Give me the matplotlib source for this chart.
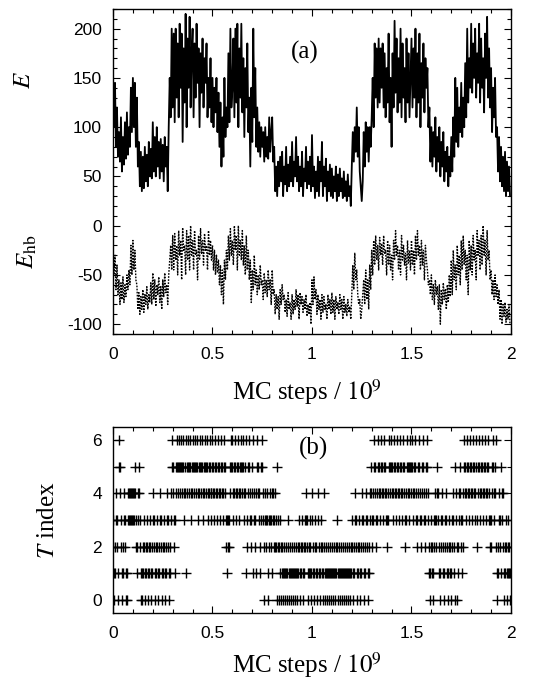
import matplotlib.pyplot as plt
import numpy as np
from matplotlib.ticker import MultipleLocator

plt.rcParams['font.family'] = ['Liberation Sans', 'DejaVu Sans']
plt.rcParams['mathtext.fontset'] = 'stix'
plt.rcParams['axes.unicode_minus'] = False

# energy E, one value every 0.005 x 10^9 MC steps (20 per row = 0.1)
E = [140, 100, 145, 80, 120, 70, 95, 65, 110, 55, 90, 62, 105, 68, 115, 72, 100, 80, 140, 95,
     150, 100, 145, 80, 130, 60, 85, 40, 75, 35, 70, 38, 80, 45, 72, 40, 85, 50, 78, 48,
     105, 55, 90, 50, 100, 60, 85, 48, 88, 55, 82, 45, 90, 60, 80, 35, 100, 150, 110, 200,
     120, 195, 105, 200, 130, 185, 110, 205, 140, 195, 85, 180, 125, 215, 100, 190, 140, 212, 120, 175,
     200, 110, 185, 130, 205, 145, 180, 100, 175, 135, 190, 120, 170, 145, 185, 110, 150, 120, 170, 105,
     150, 100, 140, 115, 150, 95, 135, 80, 125, 60, 110, 70, 150, 90, 120, 100, 175, 105, 200, 120,
     140, 190, 110, 200, 125, 205, 100, 180, 130, 205, 115, 170, 90, 160, 120, 185, 95, 130, 60, 140,
     85, 200, 110, 160, 80, 120, 75, 105, 70, 100, 80, 95, 65, 100, 70, 90, 68, 110, 75, 95,
     110, 65, 80, 35, 60, 30, 65, 40, 70, 45, 75, 30, 60, 42, 80, 35, 62, 40, 70, 45,
     85, 40, 65, 50, 90, 45, 70, 35, 60, 40, 75, 30, 58, 45, 80, 38, 65, 42, 70, 35,
     92, 40, 60, 28, 55, 35, 70, 30, 65, 45, 85, 30, 60, 40, 68, 25, 55, 35, 62, 30,
     58, 28, 50, 35, 60, 25, 52, 30, 58, 35, 48, 28, 55, 30, 45, 25, 52, 30, 40, 20,
     60, 95, 65, 100, 75, 120, 70, 100, 55, 40, 25, 45, 95, 60, 105, 75, 100, 65, 100, 80,
     110, 150, 100, 185, 130, 180, 120, 190, 125, 180, 140, 185, 120, 175, 110, 160, 125, 195, 105, 150,
     80, 175, 120, 208, 135, 190, 115, 170, 125, 200, 110, 185, 130, 160, 105, 190, 125, 175, 110, 150,
     190, 120, 180, 130, 200, 110, 175, 125, 195, 100, 165, 130, 185, 115, 170, 140, 160, 100, 120, 65,
     100, 60, 95, 70, 110, 55, 90, 65, 100, 50, 85, 60, 95, 45, 75, 55, 80, 40, 70, 50,
     90, 55, 110, 70, 150, 85, 140, 80, 120, 95, 145, 90, 130, 100, 165, 110, 200, 125, 170, 140,
     205, 135, 185, 150, 200, 130, 175, 145, 205, 125, 190, 140, 170, 115, 195, 150, 212, 130, 180, 120,
     160, 95, 140, 110, 150, 90, 100, 55, 90, 45, 80, 40, 70, 35, 75, 30, 65, 35, 60, 30]

# hydrogen bond energy E_hb, same sampling
E_hb = [-20, -50, -30, -65, -40, -70, -55, -80, -58, -75, -52, -78, -60, -72, -50, -65, -45, -60, -20, -50,
        -15, -45, -25, -55, -60, -85, -68, -90, -72, -85, -65, -88, -70, -80, -62, -85, -70, -78, -58, -80,
        -48, -75, -55, -82, -60, -70, -52, -78, -62, -85, -55, -72, -48, -68, -60, -80, -50, -35, -20, -45,
        -10, -45, -8, -35, -20, -50, -5, -30, -15, -55, -2, -25, -20, -50, -5, -35, -10, -45, 0, -30,
        -15, -45, -5, -30, -25, -55, -10, -35, -3, -28, -15, -40, -8, -25, -20, -45, -5, -30, -15, -35,
        -20, -45, -25, -50, -30, -48, -35, -60, -40, -70, -45, -80, -35, -55, -25, -45, -10, -35, -3, -30,
        -15, -40, 0, -25, -10, -45, 0, -30, -15, -35, -5, -40, -20, -50, -10, -45, -25, -55, -35, -78,
        -45, -65, -30, -60, -45, -70, -50, -65, -40, -60, -55, -75, -48, -68, -55, -72, -45, -65, -55, -80,
        -45, -70, -65, -90, -70, -85, -72, -95, -65, -80, -60, -75, -70, -88, -75, -92, -68, -85, -78, -95,
        -70, -90, -75, -85, -65, -82, -70, -95, -68, -80, -72, -88, -75, -85, -70, -92, -80, -90, -78, -100,
        -55, -80, -52, -75, -65, -90, -70, -85, -75, -95, -70, -88, -72, -85, -80, -95, -70, -85, -75, -90,
        -68, -88, -75, -95, -72, -85, -78, -90, -70, -85, -75, -95, -72, -88, -80, -92, -75, -88, -82, -95,
        -70, -40, -65, -28, -55, -45, -70, -80, -75, -95, -85, -70, -55, -80, -45, -75, -55, -85, -40, -65,
        -25, -50, -15, -40, -10, -35, -20, -45, -12, -30, -18, -40, -10, -28, -25, -50, -15, -40, -20, -45,
        -30, -55, -15, -35, -5, -30, -20, -45, -25, -50, -10, -35, -20, -40, -28, -55, -15, -38, -25, -45,
        -15, -40, -25, -50, -10, -35, -5, -30, -20, -45, -15, -40, -25, -55, -20, -35, -45, -60, -55, -70,
        -50, -75, -60, -80, -55, -70, -62, -85, -60, -100, -65, -80, -58, -75, -65, -85, -60, -78, -50, -72,
        -35, -70, -25, -55, -40, -65, -20, -50, -30, -60, -15, -45, -10, -40, -25, -55, -30, -70, -15, -45,
        -20, -50, -10, -35, -25, -55, -5, -30, -15, -45, -10, -40, 0, -30, -15, -50, -5, -35, -25, -55,
        -45, -70, -55, -75, -50, -72, -60, -80, -65, -95, -75, -100, -80, -92, -78, -98, -85, -95, -80, -100]

# temperature index of the replica, one value every 0.0025 x 10^9 MC steps (20 per row = 0.05)
T_index = [3, 2, 1, 0, 1, 2, 3, 4, 3, 2, 1, 0, 5, 6, 5, 4, 3, 2, 1, 0,
           1, 2, 3, 4, 3, 2, 1, 0, 1, 0, 3, 4, 3, 4, 3, 4, 3, 4, 3, 4,
           3, 4, 3, 4, 5, 4, 3, 2, 1, 2, 3, 4, 5, 4, 3, 2, 1, 0, 1, 0,
           1, 2, 3, 2, 1, 0, 1, 2, 3, 2, 1, 0, 1, 2, 3, 2, 1, 0, 1, 2,
           3, 4, 3, 2, 1, 0, 1, 2, 3, 2, 1, 0, 1, 2, 3, 4, 3, 2, 1, 0,
           1, 2, 3, 2, 1, 0, 1, 2, 3, 4, 3, 2, 1, 0, 1, 2, 3, 4, 5, 6,
           5, 4, 3, 2, 1, 3, 4, 5, 6, 5, 4, 5, 6, 5, 4, 5, 6, 5, 4, 5,
           6, 5, 4, 3, 4, 5, 6, 1, 4, 5, 6, 5, 4, 5, 6, 5, 4, 3, 4, 5,
           6, 5, 4, 5, 6, 5, 4, 5, 6, 5, 4, 3, 4, 5, 6, 5, 4, 5, 6, 5,
           4, 3, 4, 5, 6, 5, 4, 5, 6, 5, 4, 3, 4, 5, 6, 5, 4, 3, 4, 5,
           6, 5, 4, 3, 4, 5, 6, 5, 4, 3, 4, 5, 6, 5, 4, 3, 4, 5, 6, 5,
           4, 3, 4, 5, 6, 5, 4, 3, 2, 3, 1, 2, 3, 2, 3, 4, 5, 6, 5, 6,
           5, 4, 3, 4, 5, 6, 5, 4, 3, 4, 5, 6, 5, 4, 3, 4, 5, 6, 5, 4,
           5, 6, 5, 4, 3, 4, 5, 6, 1, 2, 3, 4, 5, 6, 5, 4, 3, 2, 3, 4,
           5, 6, 1, 4, 3, 2, 3, 4, 1, 5, 6, 5, 4, 3, 4, 1, 2, 3, 5, 6,
           5, 4, 3, 2, 0, 3, 4, 3, 2, 3, 4, 0, 1, 2, 3, 4, 3, 2, 3, 4,
           1, 4, 3, 2, 3, 4, 2, 3, 2, 5, 0, 2, 3, 2, 0, 3, 1, 0, 2, 1,
           2, 1, 0, 1, 2, 1, 0, 1, 2, 1, 0, 3, 2, 1, 0, 1, 2, 1, 0, 1,
           2, 1, 0, 1, 2, 1, 0, 1, 2, 1, 0, 1, 2, 3, 2, 1, 0, 1, 2, 3,
           2, 1, 0, 1, 2, 3, 2, 3, 4, 3, 2, 1, 0, 1, 2, 3, 2, 1, 0, 1,
           4, 3, 2, 1, 0, 1, 2, 3, 2, 1, 0, 1, 4, 3, 2, 1, 0, 1, 2, 3,
           2, 1, 0, 1, 4, 2, 1, 0, 1, 2, 1, 0, 1, 2, 1, 0, 1, 2, 1, 0,
           1, 2, 1, 0, 1, 2, 1, 0, 1, 2, 3, 2, 1, 0, 1, 2, 1, 0, 1, 2,
           1, 0, 1, 2, 1, 0, 1, 2, 1, 0, 1, 2, 1, 0, 1, 2, 1, 0, 1, 2,
           3, 2, 1, 0, 1, 2, 3, 4, 3, 2, 1, 0, 1, 2, 3, 2, 1, 0, 1, 2,
           3, 4, 3, 2, 1, 0, 1, 2, 3, 4, 3, 2, 1, 0, 1, 2, 3, 4, 5, 4,
           3, 2, 3, 4, 5, 6, 5, 4, 3, 2, 3, 4, 5, 6, 5, 4, 3, 4, 5, 6,
           5, 4, 3, 4, 5, 6, 5, 4, 3, 4, 3, 2, 3, 4, 5, 6, 5, 4, 5, 6,
           5, 4, 3, 4, 5, 6, 5, 4, 3, 4, 5, 6, 5, 4, 3, 4, 5, 6, 5, 4,
           3, 4, 5, 6, 5, 4, 3, 2, 3, 4, 5, 6, 5, 4, 3, 4, 5, 6, 5, 4,
           5, 6, 5, 4, 3, 4, 5, 6, 5, 4, 3, 2, 3, 4, 5, 6, 5, 4, 3, 2,
           3, 4, 5, 6, 5, 4, 3, 2, 3, 4, 5, 6, 5, 4, 3, 2, 1, 0, 1, 2,
           3, 2, 1, 0, 1, 2, 3, 4, 3, 2, 3, 4, 5, 4, 3, 2, 1, 0, 1, 2,
           3, 4, 3, 2, 1, 0, 1, 2, 3, 4, 3, 2, 1, 0, 1, 2, 3, 2, 1, 0,
           1, 2, 3, 4, 3, 2, 1, 0, 5, 4, 3, 2, 0, 1, 2, 3, 4, 5, 4, 3,
           2, 1, 3, 2, 4, 5, 6, 5, 4, 3, 4, 5, 6, 5, 4, 3, 4, 5, 6, 5,
           4, 3, 4, 5, 6, 5, 4, 3, 4, 5, 6, 2, 3, 4, 5, 6, 5, 4, 3, 4,
           5, 6, 5, 4, 3, 4, 5, 6, 5, 4, 3, 4, 5, 6, 5, 4, 3, 2, 3, 2,
           3, 4, 5, 6, 5, 4, 3, 4, 5, 6, 2, 1, 0, 1, 2, 3, 4, 3, 2, 1,
           5, 4, 3, 4, 2, 1, 0, 1, 2, 3, 2, 1, 0, 1, 2, 3, 2, 1, 0, 1]

x_ticks = [0, 0.5, 1, 1.5, 2]
x_tick_labels = ['0', '0.5', '1', '1.5', '2']
E_ticks = [-100, -50, 0, 50, 100, 150, 200]
T_ticks = [0, 2, 4, 6]

# sample times in units of 10^9 MC steps
steps = np.linspace(0, 2, len(E), endpoint=False)
steps_T = np.linspace(0, 2, len(T_index), endpoint=False)

fig = plt.figure(figsize=(5.33, 6.85), dpi=100)
ax1 = fig.add_axes([0.212, 0.5124, 0.7467, 0.4745])
ax2 = fig.add_axes([0.212, 0.1051, 0.7467, 0.2715])

ax1.plot(steps, E, color='black', lw=1.3)
ax1.plot(steps, E_hb, color='black', lw=1.0, ls=(0, (1.2, 1.0)))
ax1.set_xlim(0, 2)
ax1.set_ylim(-110, 220)
ax1.set_yticks(E_ticks)
ax1.yaxis.set_minor_locator(MultipleLocator(10))

ax2.plot(steps_T, T_index, ls='none', marker='+', color='black', markersize=6.5, mew=1.0)
ax2.set_xlim(0, 2)
ax2.set_ylim(-0.5, 6.5)
ax2.set_yticks(T_ticks)
ax2.yaxis.set_minor_locator(MultipleLocator(1))

for ax in (ax1, ax2):
    ax.set_xticks(x_ticks, labels=x_tick_labels)
    ax.xaxis.set_minor_locator(MultipleLocator(0.1))
    ax.tick_params(which='both', direction='in', top=True, right=True, labelsize=12.5, width=0.8)
    ax.tick_params(which='major', length=5)
    ax.tick_params(which='minor', length=3)
    ax.tick_params(axis='x', pad=9)
    ax.tick_params(axis='y', pad=8)
    for s in ax.spines.values():
        s.set_linewidth(1.0)

serif = ['Liberation Serif', 'DejaVu Serif']
fig.text(23 / 533, 1 - 80 / 685, '$E$', fontsize=18, ha='center', va='center', rotation=90)
fig.text(27 / 533, 1 - 252 / 685, r'$E_{\rm hb}$', fontsize=18, ha='center', va='center', rotation=90)
fig.text(48 / 533, 1 - 520 / 685, '$T$ index', family=serif, fontsize=18, ha='center', va='center', rotation=90)
fig.text(307 / 533, 1 - 392 / 685, 'MC steps / $10^9$', family=serif, fontsize=18, ha='center', va='center')
fig.text(307 / 533, 1 - 665 / 685, 'MC steps / $10^9$', family=serif, fontsize=18, ha='center', va='center')
fig.text(305 / 533, 1 - 52 / 685, '(a)', family=serif, fontsize=18, ha='center', va='center')
fig.text(313 / 533, 1 - 448 / 685, '(b)', family=serif, fontsize=18, ha='center', va='center')

fig.savefig('out.png', dpi=100)
